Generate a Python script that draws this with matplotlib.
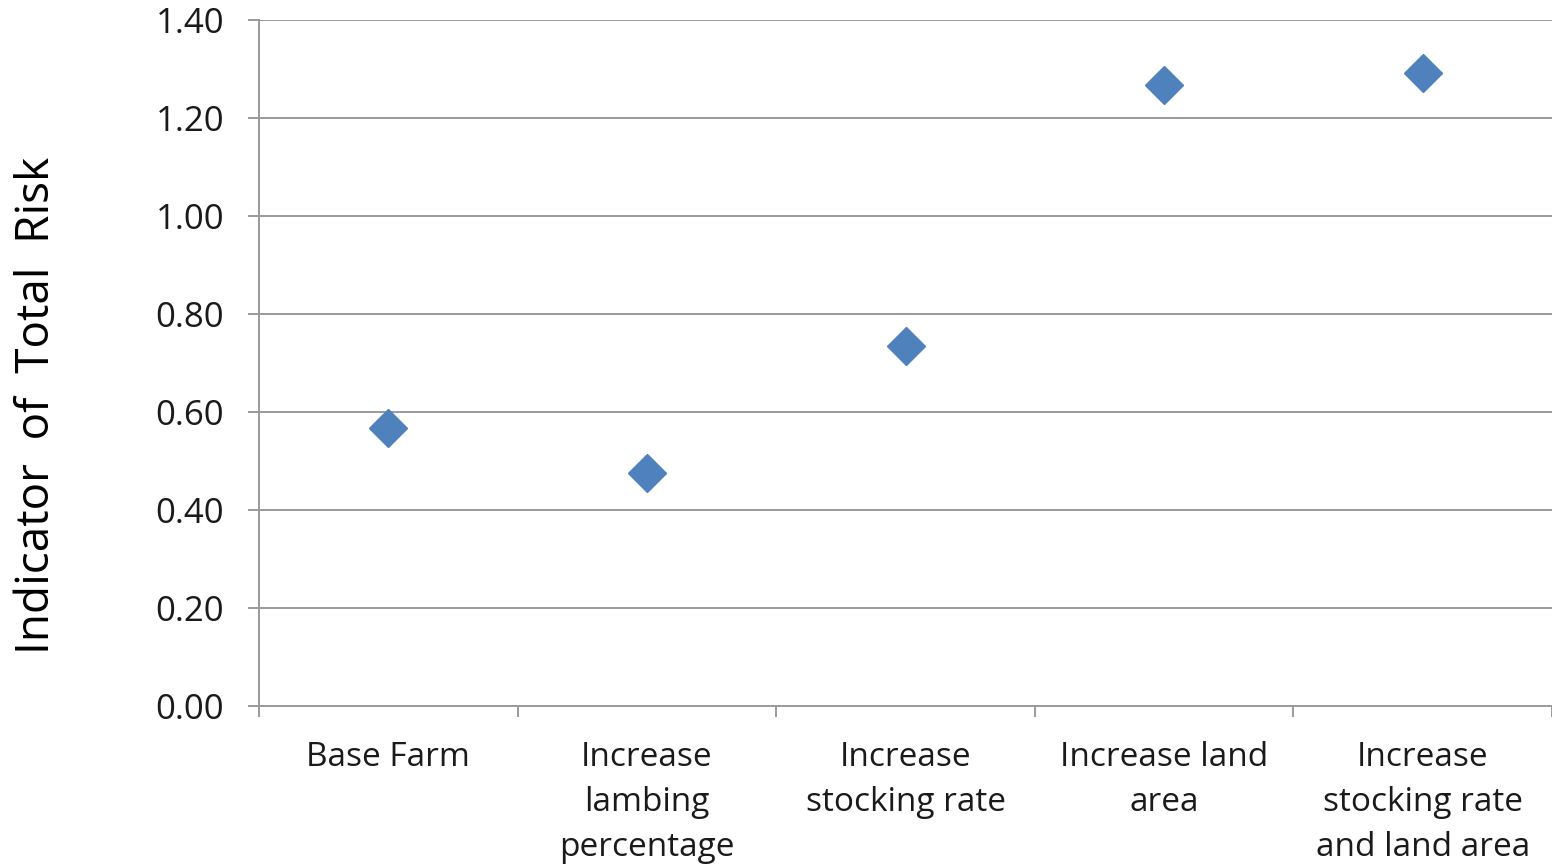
import matplotlib
matplotlib.use("Agg")
import matplotlib.pyplot as plt

categories = ["Base Farm", "Increase\nlambing\npercentage", "Increase\nstocking rate",
              "Increase land\narea", "Increase\nstocking rate\nand land area"]
risk = [0.567, 0.476, 0.735, 1.267, 1.292]
yticks = [0.0, 0.2, 0.4, 0.6, 0.8, 1.0, 1.2, 1.4]

plt.rcParams["font.family"] = ["Open Sans", "DejaVu Sans"]
grid_c = "#9a9a9a"
text_c = "#1a1a1a"

fig = plt.figure(figsize=(15.52, 8.66), dpi=100)
ax = fig.add_axes([259/1552, 1 - 706/866, 1 - 259/1552, (706 - 20)/866])

x = list(range(len(categories)))
ax.plot(x, risk, linestyle="none", marker="D", markersize=19, color="#4F81BD", zorder=3)

ax.set_xlim(-0.5, len(categories) - 0.5)
ax.set_ylim(0, 1.4)
ax.set_yticks(yticks)
ax.set_yticklabels([f"{v:.2f}" for v in yticks], fontsize=25, color=text_c)
ax.yaxis.grid(True, color=grid_c, linewidth=1.4)
ax.set_axisbelow(True)

# category labels centred between boundary ticks
ax.set_xticks(x)
ax.set_xticklabels(categories, fontsize=24, color=text_c, linespacing=1.49)
ax.tick_params(axis="x", length=0, pad=25)
ax.set_xticks([i - 0.5 for i in range(len(categories) + 1)], minor=True)
ax.tick_params(axis="x", which="minor", length=8, width=1.4, color=grid_c, direction="out")
ax.tick_params(axis="y", length=8, width=1.4, color=grid_c, direction="out", pad=17)

for s in ["top", "right"]:
    ax.spines[s].set_visible(False)
for s in ["left", "bottom"]:
    ax.spines[s].set_color(grid_c)
    ax.spines[s].set_linewidth(1.4)

fig.text(37/1552, 1 - 405/866, "Indicator  of  Total  Risk", rotation=90,
         fontsize=33, color="black", ha="center", va="center")

fig.savefig("out.png", dpi=100)
